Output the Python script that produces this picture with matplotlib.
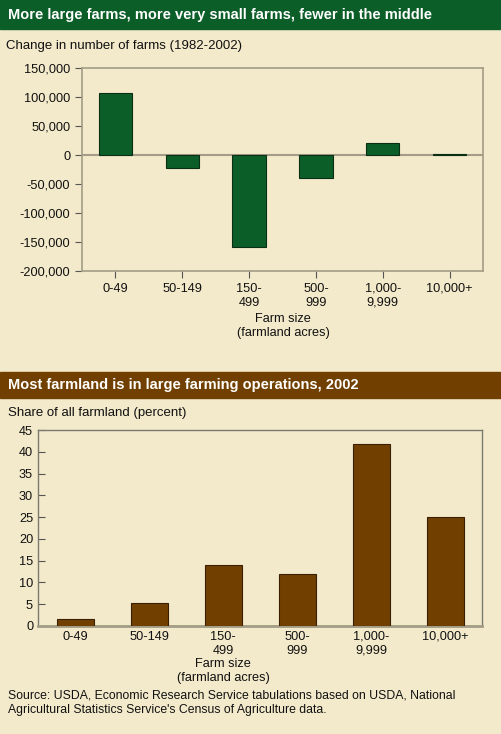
import matplotlib
matplotlib.use("Agg")
import matplotlib.pyplot as plt
from matplotlib.patches import Rectangle

plt.rcParams['font.family'] = ['Liberation Sans', 'DejaVu Sans']

cats = ["0-49", "50-149", "150-\n499", "500-\n999", "1,000-\n9,999", "10,000+"]
change = [107000, -23000, -158000, -40000, 21000, 1000]
share = [1.7, 5.2, 14.1, 12.0, 41.7, 25.0]

BG = "#F3EACB"
GREEN = "#0B5E28"
BROWN = "#714000"
SP = "#A39C86"

fig = plt.figure(figsize=(5.01, 7.34), dpi=100, facecolor=BG)
W, H = 501, 734

def band(y0, y1, color, text):
    fig.patches.append(Rectangle((0, 1 - y1 / H), 1, (y1 - y0) / H, transform=fig.transFigure, color=color, zorder=0))
    fig.text(8 / W, 1 - (y0 + y1) / 2 / H, text, color="white", fontsize=10.5, fontweight="bold", va="center", ha="left")

band(0, 29, GREEN, "More large farms, more very small farms, fewer in the middle")
band(372, 398, BROWN, "Most farmland is in large farming operations, 2002")

# top chart
ax1 = fig.add_axes([82 / W, 1 - 271 / H, 401 / W, 203 / H])
ax1.set_facecolor(BG)
ax1.bar(range(6), change, width=0.5, color=GREEN, edgecolor="#0a2e14", linewidth=0.8, zorder=3)
ax1.axhline(0, color=SP, lw=1.5, zorder=2)
ax1.set_xlim(-0.5, 5.5)
ax1.set_ylim(-200000, 150000)
ax1.set_yticks(range(-200000, 150001, 50000))
ax1.set_yticklabels([f"{v:,}" for v in range(-200000, 150001, 50000)])
ax1.set_xticks(range(6))
ax1.set_xticklabels(cats)
for s in ax1.spines.values():
    s.set_color(SP); s.set_linewidth(1.2)
ax1.tick_params(colors="#555", labelcolor="#111", labelsize=9.2, length=5, width=0.8)
fig.text(6 / W, 1 - 46 / H, "Change in number of farms (1982-2002)", fontsize=9.5, va="center", color="#111")
fig.text(283 / W, 1 - 326 / H, "Farm size\n(farmland acres)", fontsize=9.2, ha="center", va="center", color="#111")

# bottom chart
ax2 = fig.add_axes([38 / W, 1 - 626 / H, 444 / W, 196 / H])
ax2.set_facecolor(BG)
ax2.bar(range(6), share, width=0.5, color=BROWN, edgecolor="#3a2000", linewidth=0.8, zorder=3)
ax2.set_xlim(-0.5, 5.5)
ax2.set_ylim(0, 45)
ax2.set_yticks(range(0, 46, 5))
ax2.set_xticks(range(6))
ax2.set_xticklabels(cats)
for s in ax2.spines.values():
    s.set_color("#7a7a70"); s.set_linewidth(1.0)
ax2.spines["bottom"].set_color(SP); ax2.spines["bottom"].set_linewidth(2)
ax2.tick_params(colors="#555", labelcolor="#111", labelsize=9.2, length=5, width=0.8, direction="in")
fig.text(8 / W, 1 - 413 / H, "Share of all farmland (percent)", fontsize=9.5, va="center", color="#111")
fig.text(223 / W, 1 - 671 / H, "Farm size\n(farmland acres)", fontsize=9.2, ha="center", va="center", color="#111")

fig.text(8 / W, 1 - 703 / H, "Source: USDA, Economic Research Service tabulations based on USDA, National\nAgricultural Statistics Service's Census of Agriculture data.", fontsize=8.8, va="center", color="#111", linespacing=1.25)

fig.savefig("out.png", dpi=100, facecolor=BG)
